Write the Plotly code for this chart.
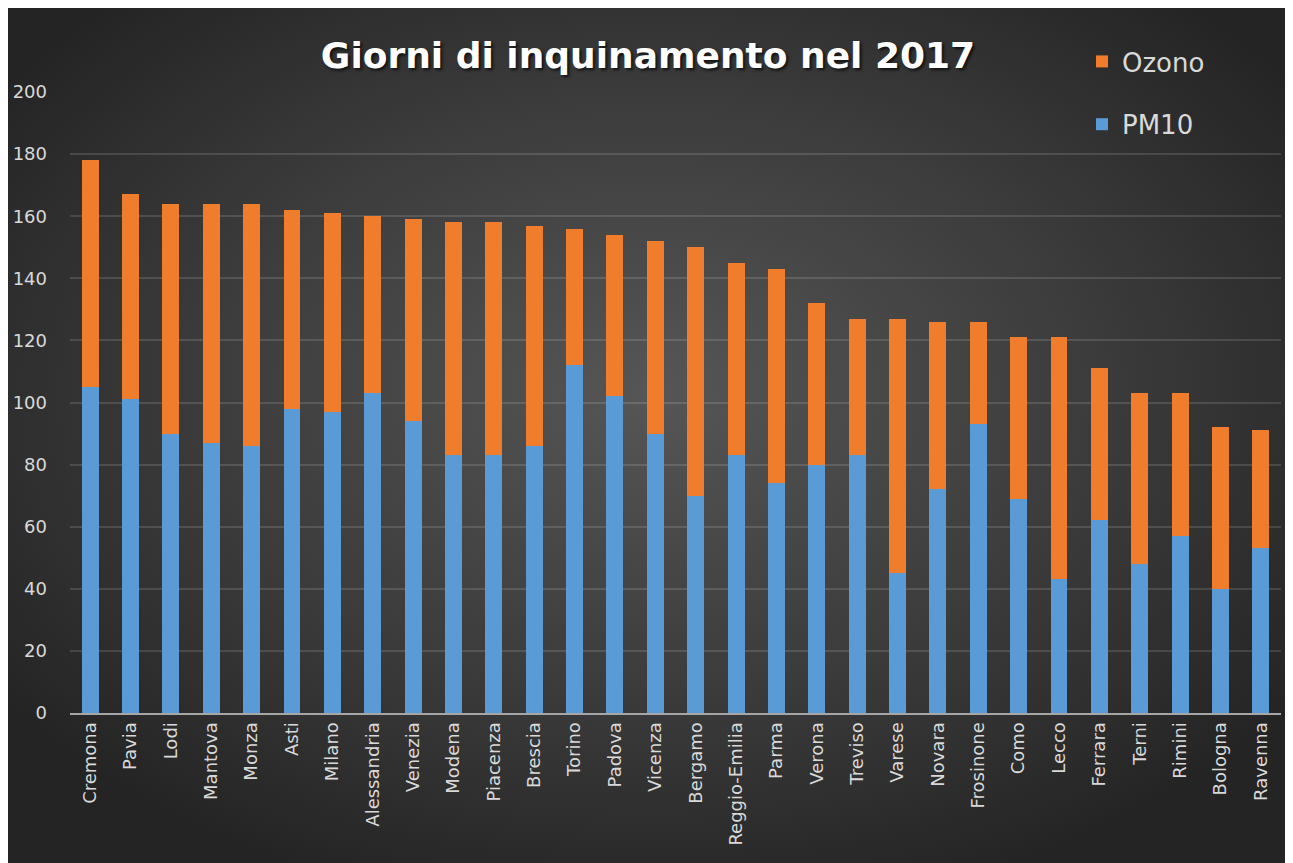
import base64
import plotly.graph_objects as go

cities = ["Cremona", "Pavia", "Lodi", "Mantova", "Monza", "Asti", "Milano", "Alessandria",
          "Venezia", "Modena", "Piacenza", "Brescia", "Torino", "Padova", "Vicenza", "Bergamo",
          "Reggio-Emilia", "Parma", "Verona", "Treviso", "Varese", "Novara", "Frosinone", "Como",
          "Lecco", "Ferrara", "Terni", "Rimini", "Bologna", "Ravenna"]
totals = [178, 167, 164, 164, 164, 162, 161, 160, 159, 158, 158, 157, 156, 154, 152, 150,
          145, 143, 132, 127, 127, 126, 126, 121, 121, 111, 103, 103, 92, 91]
pm10 = [105, 101, 90, 87, 86, 98, 97, 103, 94, 83, 83, 86, 112, 102, 90, 70,
        83, 74, 80, 83, 45, 72, 93, 69, 43, 62, 48, 57, 40, 53]
ozono = [t - p for t, p in zip(totals, pm10)]
y_ticks = [0, 20, 40, 60, 80, 100, 120, 140, 160, 180, 200]

W, H = 1285, 855
L, R, T, B = 62, 12, 84, 150
pw, ph = W - L - R, H - T - B

svg = f'''<svg xmlns="http://www.w3.org/2000/svg" width="{W}" height="{H}" viewBox="0 0 {W} {H}" preserveAspectRatio="none">
<defs><radialGradient id="g" cx="0.5" cy="0.45" r="0.62">
<stop offset="0" stop-color="#565656"/><stop offset="0.55" stop-color="#3c3c3c"/><stop offset="1" stop-color="#242424"/>
</radialGradient></defs>
<rect x="0" y="0" width="{W}" height="{H}" fill="url(#g)"/></svg>'''
src = "data:image/svg+xml;base64," + base64.b64encode(svg.encode()).decode()

fig = go.Figure()
fig.add_trace(go.Bar(x=cities, y=pm10, name="PM10", legendgroup="pm", legendrank=2,
                     marker=dict(color="#5b9bd5", line=dict(width=0))))
fig.add_trace(go.Bar(x=cities, y=ozono, name="Ozono", legendgroup="oz", legendrank=1,
                     marker=dict(color="#f07d2c", line=dict(width=0))))

fig.update_layout(
    width=W, height=H,
    margin=dict(l=L, r=R, t=T, b=B, autoexpand=False),
    barmode="stack", bargap=0.58,
    paper_bgcolor="#2a2a2a", plot_bgcolor="rgba(0,0,0,0)",
    images=[dict(source=src, xref="paper", yref="paper",
                 x=-L / pw, y=1 + T / ph, sizex=W / pw, sizey=H / ph,
                 xanchor="left", yanchor="top", sizing="stretch", layer="below")],
    title=dict(text="Giorni di inquinamento nel 2017", x=640 / W, xanchor="center",
               y=1 - 47 / H, yanchor="middle", xref="container", yref="container",
               font=dict(family="DejaVu Sans", size=36, color="white", weight="bold",
                         shadow="2px 2px 3px rgba(0,0,0,0.7)")),
    legend=dict(x=(1074 - L) / pw, xanchor="left", y=1 - 30 / H, yanchor="top",
                yref="container", traceorder="grouped", tracegroupgap=26,
                font=dict(family="DejaVu Sans", size=26, color="#d9d9d9"),
                bgcolor="rgba(0,0,0,0)"),
    font=dict(family="DejaVu Sans", color="#d9d9d9"),
    showlegend=True,
)
fig.update_xaxes(tickangle=-90, tickfont=dict(size=18, color="#d9d9d9"),
                 showline=True, linecolor="#a6a6a6", linewidth=2, ticks="",
                 showgrid=False, automargin=False)
fig.update_yaxes(range=[0, 200], tickvals=y_ticks, tickfont=dict(size=18, color="#d9d9d9"),
                 showgrid=True, gridcolor="rgba(255,255,255,0.13)", gridwidth=1.5,
                 zeroline=False, ticks="", ticklabelstandoff=22, automargin=False)

fig.write_html("out.html")
